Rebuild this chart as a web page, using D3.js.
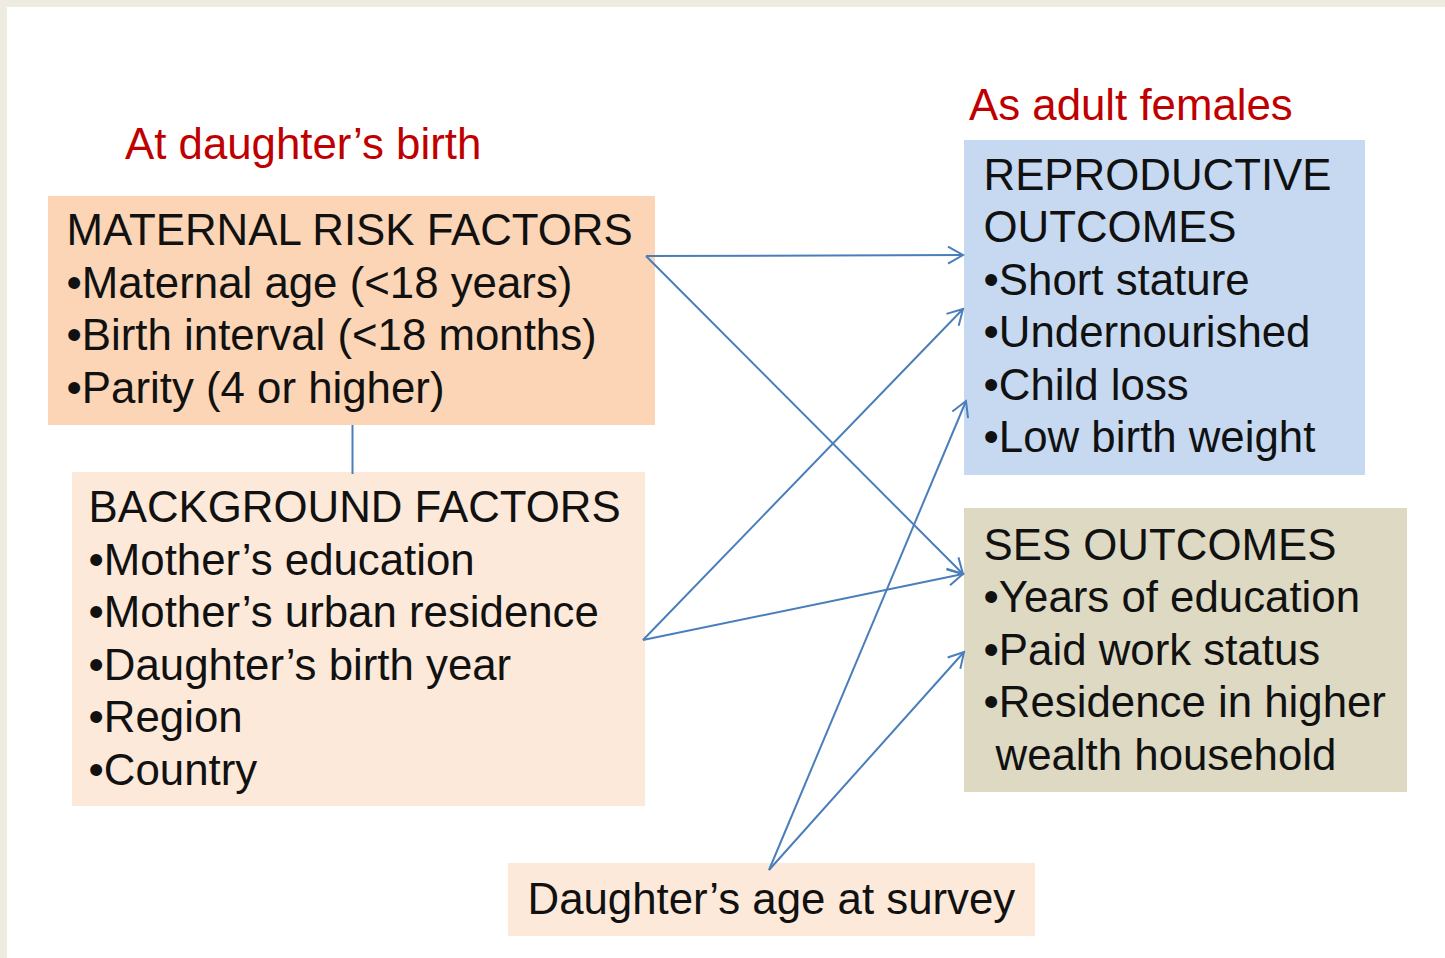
<!DOCTYPE html>
<html>
<head>
<meta charset="utf-8">
<script src="https://cdn.jsdelivr.net/npm/d3@7"></script>
<style>
  html, body { margin: 0; padding: 0; background: #ffffff; }
  svg { display: block; }
  text { font-family: "Liberation Sans", Arial, sans-serif; }
</style>
</head>
<body>
<div id="vis"></div>
<script>
// text content of each box
const maternalLines = ["MATERNAL RISK FACTORS", "•Maternal age (<18 years)", "•Birth interval (<18 months)", "•Parity (4 or higher)"];
const backgroundLines = ["BACKGROUND FACTORS", "•Mother’s education", "•Mother’s urban residence", "•Daughter’s birth year", "•Region", "•Country"];
const reproLines = ["REPRODUCTIVE", "OUTCOMES", "•Short stature", "•Undernourished", "•Child loss", "•Low birth weight"];
const sesLines = ["SES OUTCOMES", "•Years of education", "•Paid work status", "•Residence in higher", " wealth household"];
const ageLines = ["Daughter’s age at survey"];

// headings over the two columns
const headings = ["At daughter’s birth", "As adult females"];

// links: from node -> to node (to port)
const links = [
  {from: "maternal", to: "repro", port: "top"},
  {from: "maternal", to: "ses", port: "mid"},
  {from: "background", to: "repro", port: "upper"},
  {from: "background", to: "ses", port: "mid"},
  {from: "age", to: "repro", port: "low"},
  {from: "age", to: "ses", port: "lower"}
];
const connectors = [{from: "maternal", to: "background"}];

const width = 1445, height = 958;
const fontSize = 43.8, lineGap = 52.5;

// layout of the boxes (page pixels)
const layout = {
  maternal:   {x: 48,  y: 196, w: 607, h: 229, tx: 66.5, ty: 245,   fill: "#FBD5B5", lines: maternalLines},
  background: {x: 72,  y: 472, w: 573, h: 334, tx: 88.5, ty: 522,   fill: "#FDE9D9", lines: backgroundLines},
  repro:      {x: 964, y: 140, w: 401, h: 335, tx: 983.5, ty: 189.5, fill: "#C6D9F1", lines: reproLines},
  ses:        {x: 964, y: 508, w: 443, h: 284, tx: 983.5, ty: 559.5, fill: "#DDD9C3", lines: sesLines},
  age:        {x: 508, y: 863, w: 527, h: 73,  tx: 527.5, ty: 914,   fill: "#FDE9D9", lines: ageLines}
};
// where the arrows leave and reach the boxes
const outPort = {maternal: [646, 256], background: [643, 640], age: [769, 870]};
const inPort = {
  repro: {top: [963, 255], upper: [963, 309], low: [966, 401]},
  ses: {mid: [963, 574], lower: [964, 652]}
};

const svg = d3.select("#vis").append("svg")
  .attr("width", width)
  .attr("height", height);

// page frame
svg.append("rect").attr("width", width).attr("height", height).attr("fill", "#EEEBE0");
svg.append("rect").attr("x", 7).attr("y", 7).attr("width", width - 7).attr("height", height - 7).attr("fill", "#ffffff");

svg.append("defs").append("marker")
  .attr("id", "arrow")
  .attr("markerUnits", "userSpaceOnUse")
  .attr("viewBox", "-16 -10 18 20")
  .attr("refX", 0).attr("refY", 0)
  .attr("markerWidth", 18).attr("markerHeight", 20)
  .attr("orient", "auto")
  .append("path")
  .attr("d", "M-15,-8.5L0,0L-15,8.5")
  .attr("fill", "none")
  .attr("stroke", "#4A7EBB")
  .attr("stroke-width", 2);

// boxes
const nodes = Object.entries(layout).map(([id, d]) => ({id, ...d}));
const g = svg.append("g").attr("id", "boxes");
g.selectAll("rect")
  .data(nodes)
  .join("rect")
  .attr("x", d => d.x)
  .attr("y", d => d.y)
  .attr("width", d => d.w)
  .attr("height", d => d.h)
  .attr("fill", d => d.fill);

// connector line between the two left boxes
svg.append("g").selectAll("line")
  .data(connectors)
  .join("line")
  .attr("x1", 352.5)
  .attr("y1", d => layout[d.from].y + layout[d.from].h)
  .attr("x2", 352.5)
  .attr("y2", d => layout[d.to].y + 2)
  .attr("stroke", "#4A7EBB")
  .attr("stroke-width", 2);

// box text
g.selectAll("text.box")
  .data(nodes)
  .join("text")
  .attr("class", "box")
  .attr("font-size", fontSize)
  .attr("fill", "#111111")
  .each(function(d) {
    d3.select(this).selectAll("tspan")
      .data(d.lines)
      .join("tspan")
      .attr("x", l => l.startsWith(" ") ? d.tx + 12 : d.tx)
      .attr("y", (l, i) => d.ty + i * lineGap)
      .text(l => l.trim());
  });

// arrows
svg.append("g").attr("id", "arrows").selectAll("line")
  .data(links)
  .join("line")
  .attr("x1", d => outPort[d.from][0])
  .attr("y1", d => outPort[d.from][1])
  .attr("x2", d => inPort[d.to][d.port][0])
  .attr("y2", d => inPort[d.to][d.port][1])
  .attr("stroke", "#4A7EBB")
  .attr("stroke-width", 2)
  .attr("marker-end", "url(#arrow)");

// headings
svg.append("g").selectAll("text")
  .data(headings)
  .join("text")
  .attr("x", (d, i) => i === 0 ? 125 : 969)
  .attr("y", (d, i) => i === 0 ? 158.5 : 119.5)
  .attr("font-size", fontSize)
  .attr("fill", "#C00000")
  .text(d => d);
</script>
</body>
</html>
